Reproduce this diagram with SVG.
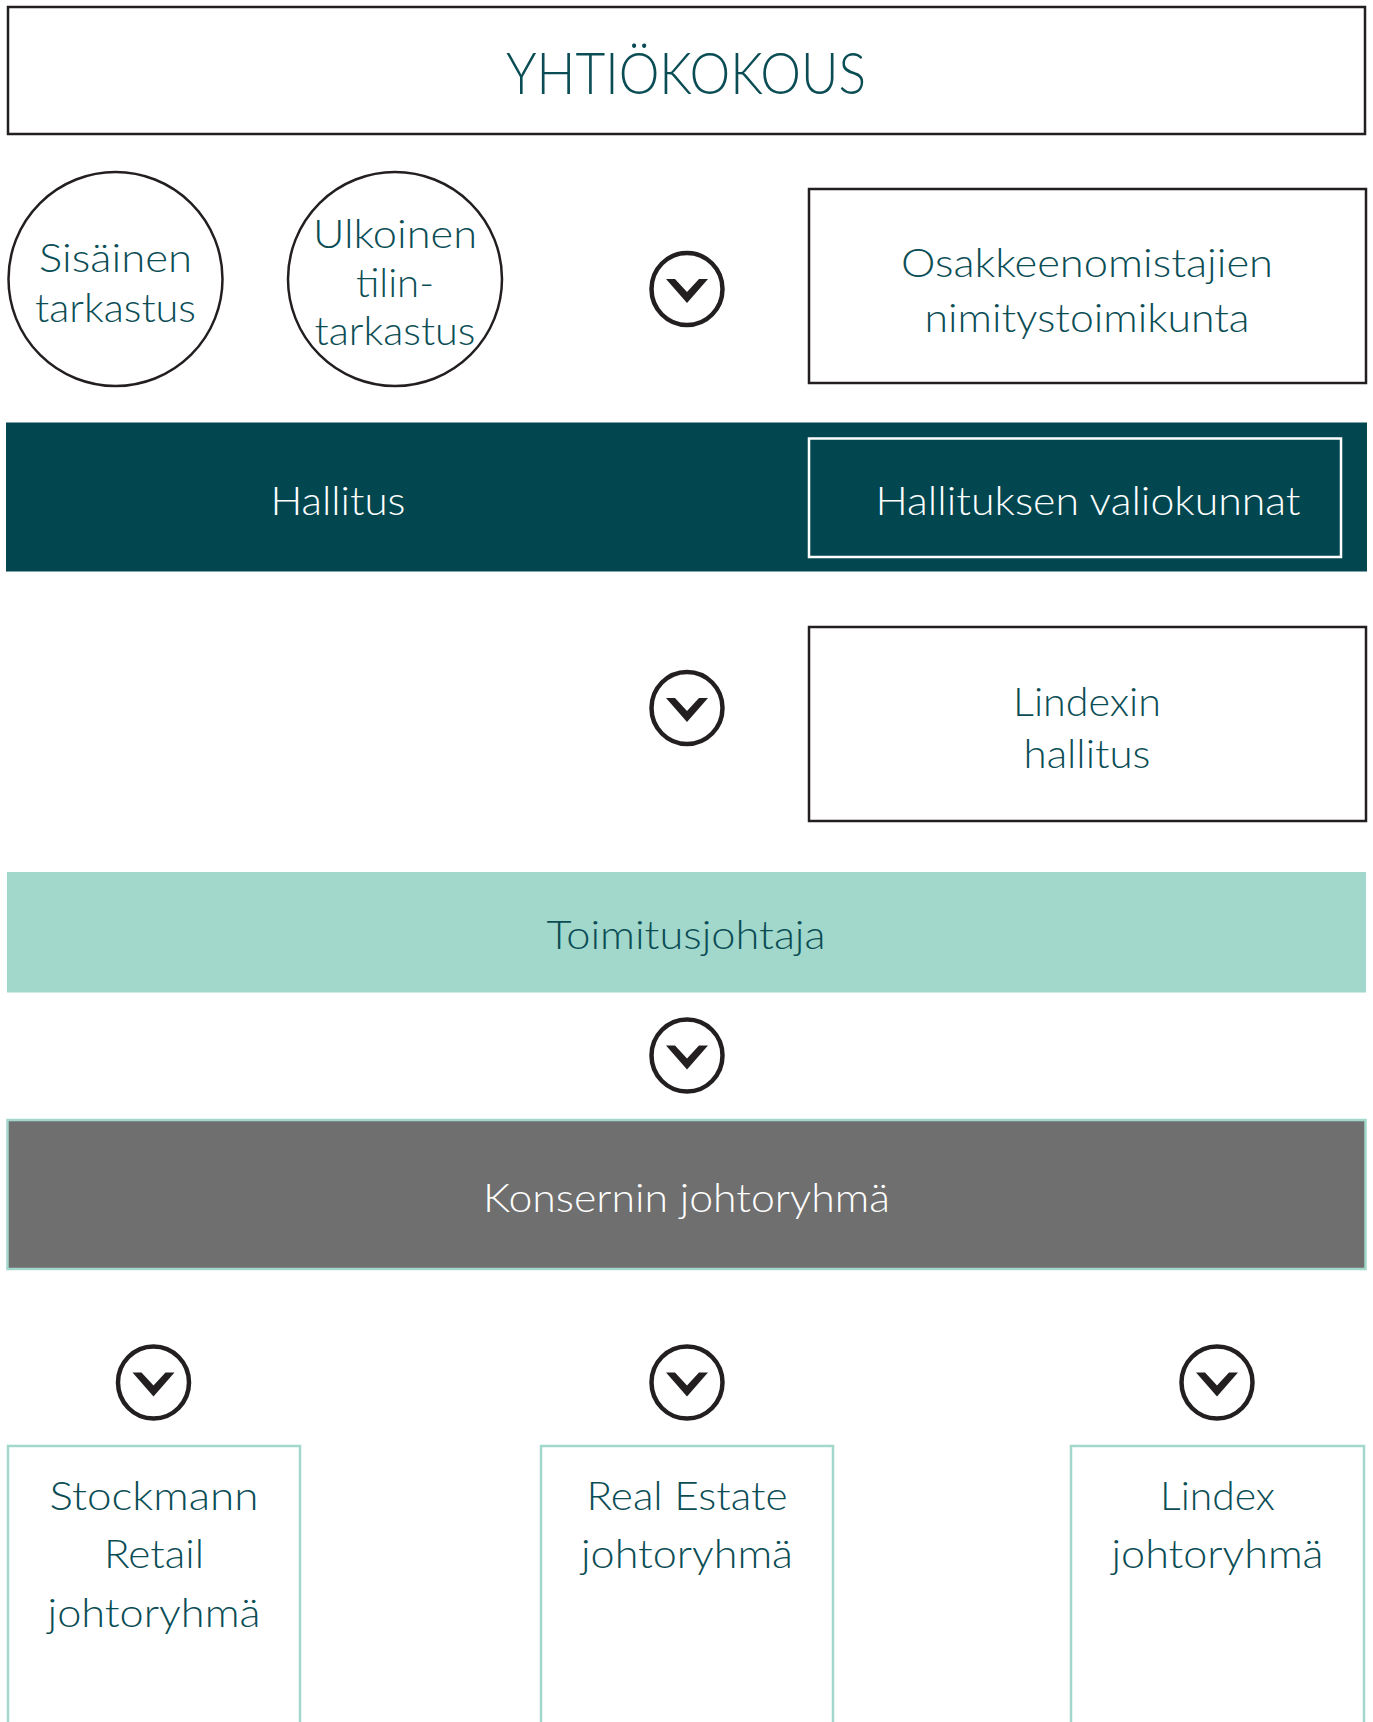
<svg xmlns="http://www.w3.org/2000/svg" width="1373" height="1722" viewBox="0 0 1373 1722">
<style>
  .t { font-family: Lato, "Open Sans", "Liberation Sans", sans-serif; font-weight: 300; font-size: 40px; fill: #0b4d55; text-anchor: middle; }
  .big { font-size: 58px; }
  .w { fill: #ffffff; }
  .box { fill: #ffffff; stroke: #231f20; stroke-width: 2.5; }
  .circ { fill: #ffffff; stroke: #231f20; stroke-width: 2.5; }
  .mint { fill: #ffffff; stroke: #a2d7cb; stroke-width: 2.5; }
  .chev-ring { fill: #ffffff; stroke: #231f20; stroke-width: 4.5; }
  .chev { fill: #231f20; }
</style>
<defs>
  <g id="chevron">
    <ellipse class="chev-ring" cx="0" cy="0" rx="35.5" ry="36"/>
    <polygon class="chev" points="-21,-10 -12,-10 0,3 12,-10 21,-10 0,14"/>
  </g>
</defs>
<rect width="1373" height="1722" fill="#ffffff"/>

<g id="yhtiokokous">
  <rect class="box" x="8" y="7" width="1357" height="127"/>
  <text class="t big" x="686" y="94" textLength="360" lengthAdjust="spacingAndGlyphs">YHTIÖKOKOUS</text>
</g>

<g id="sisainen-tarkastus">
  <circle class="circ" cx="115.5" cy="279" r="107"/>
  <text class="t" x="115.5" y="272" textLength="153" lengthAdjust="spacingAndGlyphs">Sisäinen</text>
  <text class="t" x="115.5" y="322" textLength="161" lengthAdjust="spacingAndGlyphs">tarkastus</text>
</g>

<g id="ulkoinen-tilintarkastus">
  <circle class="circ" cx="395" cy="279" r="107"/>
  <text class="t" x="395" y="248" textLength="164" lengthAdjust="spacingAndGlyphs">Ulkoinen</text>
  <text class="t" x="395" y="297" textLength="78" lengthAdjust="spacingAndGlyphs">tilin-</text>
  <text class="t" x="395" y="345" textLength="161" lengthAdjust="spacingAndGlyphs">tarkastus</text>
</g>

<g id="nimitystoimikunta">
  <rect class="box" x="809" y="189" width="557" height="194"/>
  <text class="t" x="1087" y="277" textLength="372" lengthAdjust="spacingAndGlyphs">Osakkeenomistajien</text>
  <text class="t" x="1087" y="332" textLength="325" lengthAdjust="spacingAndGlyphs">nimitystoimikunta</text>
</g>

<g id="hallitus">
  <rect x="6" y="422.5" width="1361" height="149" fill="#02474f"/>
  <text class="t w" x="338" y="515" textLength="135" lengthAdjust="spacingAndGlyphs">Hallitus</text>
</g>

<g id="hallituksen-valiokunnat">
  <rect x="809" y="438.5" width="532" height="118.5" fill="#02474f" stroke="#ffffff" stroke-width="2.5"/>
  <text class="t w" x="1088" y="515" textLength="425" lengthAdjust="spacingAndGlyphs">Hallituksen valiokunnat</text>
</g>

<g id="lindexin-hallitus">
  <rect class="box" x="809" y="627" width="557" height="194"/>
  <text class="t" x="1087" y="716" textLength="148" lengthAdjust="spacingAndGlyphs">Lindexin</text>
  <text class="t" x="1087" y="768" textLength="127" lengthAdjust="spacingAndGlyphs">hallitus</text>
</g>

<g id="toimitusjohtaja">
  <rect x="7" y="872" width="1359" height="120.5" fill="#a2d7cb"/>
  <text class="t" x="686" y="949" textLength="279" lengthAdjust="spacingAndGlyphs">Toimitusjohtaja</text>
</g>

<g id="konsernin-johtoryhma">
  <rect x="7.5" y="1120" width="1358" height="149" fill="#6f6f6f" stroke="#a2d7cb" stroke-width="2.5"/>
  <text class="t w" x="686.5" y="1212" textLength="407" lengthAdjust="spacingAndGlyphs">Konsernin johtoryhmä</text>
</g>

<g id="stockmann-retail">
  <path class="mint" d="M8 1722 V1446 H300 V1722"/>
  <text class="t" x="154" y="1510" textLength="209" lengthAdjust="spacingAndGlyphs">Stockmann</text>
  <text class="t" x="154" y="1568" textLength="100" lengthAdjust="spacingAndGlyphs">Retail</text>
  <text class="t" x="154" y="1627" textLength="213" lengthAdjust="spacingAndGlyphs">johtoryhmä</text>
</g>

<g id="real-estate">
  <path class="mint" d="M541 1722 V1446 H833 V1722"/>
  <text class="t" x="687" y="1510" textLength="201" lengthAdjust="spacingAndGlyphs">Real Estate</text>
  <text class="t" x="687" y="1568" textLength="212" lengthAdjust="spacingAndGlyphs">johtoryhmä</text>
</g>

<g id="lindex-johtoryhma">
  <path class="mint" d="M1071 1722 V1446 H1364 V1722"/>
  <text class="t" x="1217.5" y="1510" textLength="115" lengthAdjust="spacingAndGlyphs">Lindex</text>
  <text class="t" x="1217.5" y="1568" textLength="212" lengthAdjust="spacingAndGlyphs">johtoryhmä</text>
</g>

<g id="connectors">
  <use href="#chevron" x="687" y="289"/>
  <use href="#chevron" x="687" y="708"/>
  <use href="#chevron" x="687" y="1055.5"/>
  <use href="#chevron" x="153.5" y="1382.5"/>
  <use href="#chevron" x="687" y="1382.5"/>
  <use href="#chevron" x="1217" y="1382.5"/>
</g>
</svg>
